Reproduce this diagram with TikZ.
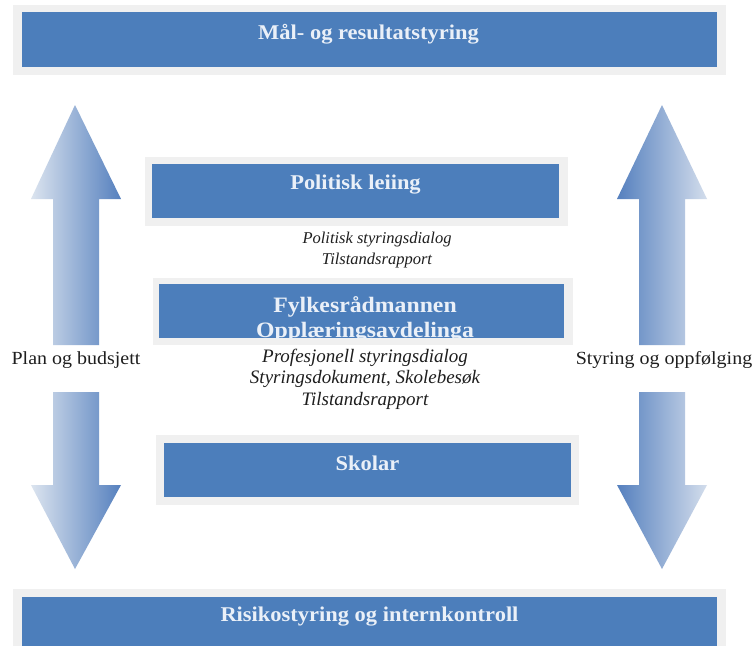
\documentclass[tikz,border=0pt]{standalone}
\usepackage{fontspec}
\setmainfont{Liberation Serif}
\newfontfamily\titlefont[FakeStretch=1.07]{Liberation Serif}
\newfontfamily\fylkefont[FakeStretch=1.08]{Liberation Serif}
\newfontfamily\labelfont[FakeStretch=1.08]{Liberation Serif}
\definecolor{boxblue}{HTML}{4C7EBB}
\definecolor{framegray}{HTML}{F0F0F0}
\definecolor{titletext}{HTML}{EAF0F8}
\definecolor{arrowlight}{HTML}{DCE4EF}
\definecolor{arrowdark}{HTML}{5580BE}
\definecolor{arrowlight2}{HTML}{D3DDEC}
\definecolor{notetext}{HTML}{1E1E1E}
\tikzset{
  boxframe/.style={fill=framegray, draw=none},
  bluebox/.style={fill=boxblue, draw=none, inner sep=0pt},
  boxtitle/.style={text=titletext, inner sep=0pt, align=center,
    font=\titlefont\bfseries\fontsize{21}{24}\selectfont},
  fylketitle/.style={text=titletext, inner sep=0pt, anchor=base,
    font=\fylkefont\bfseries\fontsize{22}{24}\selectfont},
  noteA/.style={text=notetext, inner sep=0pt, align=center,
    font=\itshape\fontsize{16.5}{21}\selectfont},
  noteB/.style={text=notetext, inner sep=0pt, align=center,
    font=\itshape\fontsize{19}{21.5}\selectfont},
  sidelabel/.style={text=notetext, inner sep=0pt,
    font=\labelfont\fontsize{18.5}{22}\selectfont},
  leftshade/.style={left color=arrowlight, right color=arrowdark, draw=none},
  rightshade/.style={left color=arrowdark, right color=arrowlight2, draw=none}
}
\begin{document}
\begin{tikzpicture}[x=1pt,y=-1pt]
\useasboundingbox (0,0) rectangle (755,646);
\fill[white] (0,0) rectangle (755,646);

% --- top bar
\fill[boxframe] (13,5) rectangle (726,75);
\node[bluebox, minimum width=695, minimum height=55] (top) at (369.5,39.5) {};
\node[boxtitle] (toptext) at (368.5,34) {Mål- og resultatstyring};

% --- Politisk leiing
\fill[boxframe] (145,157) rectangle (568,226);
\node[bluebox, minimum width=407, minimum height=54] (pol) at (355.5,191) {};
\node[boxtitle] (poltext) at (355.5,185) {Politisk leiing};

\node[noteA] (polnote) at (377,250) {Politisk styringsdialog\\Tilstandsrapport};

% --- Fylkesrådmannen
\fill[boxframe] (153,278) rectangle (573,345);
\node[bluebox, minimum width=405, minimum height=54] (fylke) at (361.5,311) {};
\begin{scope}
  \clip (159,284) rectangle (564,338);
  \node[fylketitle] (fylketext1) at (365,312.5) {Fylkesrådmannen};
  \node[fylketitle] (fylketext2) at (365,337) {Opplæringsavdelinga};
\end{scope}

\node[noteB] (fylkenote) at (365,379) {Profesjonell styringsdialog\\Styringsdokument, Skolebesøk\\Tilstandsrapport};

% --- Skolar
\fill[boxframe] (156,435) rectangle (579,505);
\node[bluebox, minimum width=407, minimum height=54] (skolar) at (367.5,470) {};
\node[boxtitle] (skolartext) at (367.5,463) {Skolar};

% --- bottom bar
\fill[boxframe] (13,589) rectangle (726,646);
\node[bluebox, minimum width=695, minimum height=49] (bot) at (369.5,621.5) {};
\node[boxtitle] (bottext) at (369.5,617) {Risikostyring og internkontroll};

% --- left arrows
\shade[leftshade] (75,105) -- (121,199) -- (99,199) -- (99,345) -- (53,345) -- (53,199) -- (31,199) -- cycle;
\shade[leftshade] (53,392) -- (99,392) -- (99,485) -- (121,485) -- (75,569) -- (31,485) -- (53,485) -- cycle;
\node[sidelabel] (plan) at (76,360) {Plan og budsjett};

% --- right arrows
\shade[rightshade] (662,105) -- (707,199) -- (685,199) -- (685,345) -- (639,345) -- (639,199) -- (617,199) -- cycle;
\shade[rightshade] (639,392) -- (685,392) -- (685,485) -- (707,485) -- (662,569) -- (617,485) -- (639,485) -- cycle;
\node[sidelabel] (styring) at (664,360) {Styring og oppfølging};
\end{tikzpicture}
\end{document}
